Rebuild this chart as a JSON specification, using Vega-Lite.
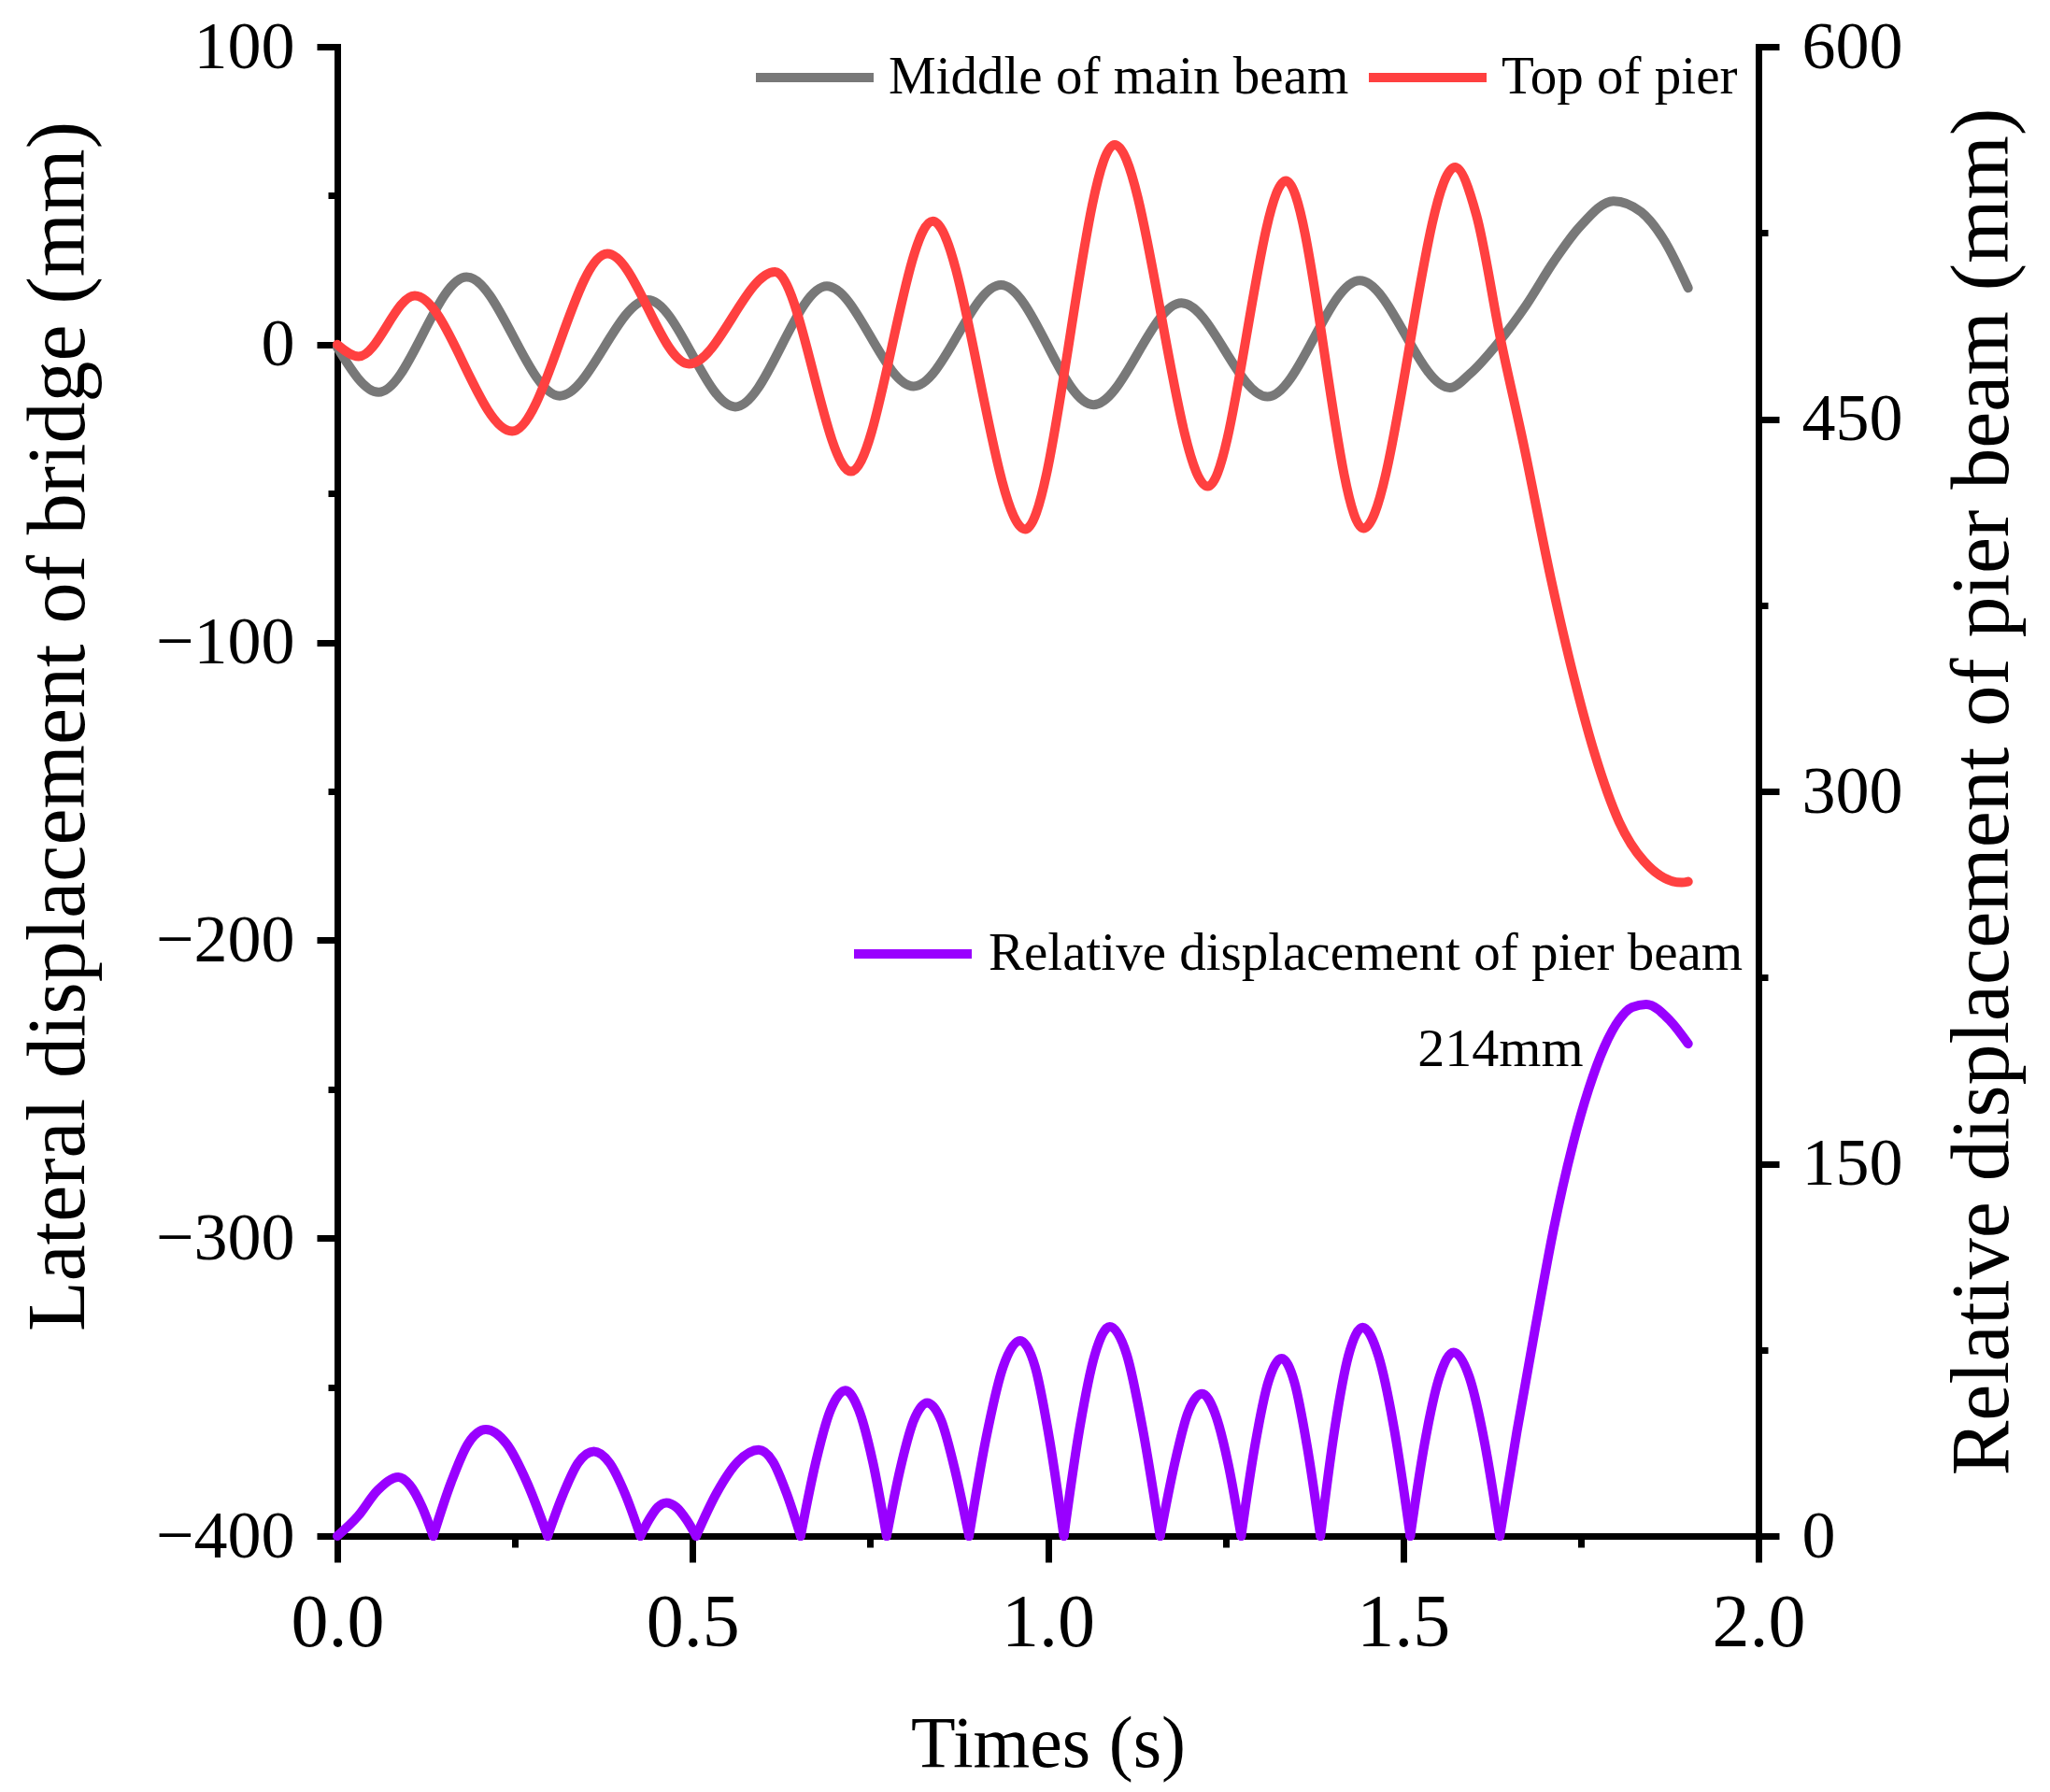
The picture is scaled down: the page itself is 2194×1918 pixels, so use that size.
{
  "$schema": "https://vega.github.io/schema/vega-lite/v6.json",
  "width": 1521,
  "height": 1594,
  "autosize": {"type": "none"},
  "padding": {"left": 361, "top": 50, "right": 312, "bottom": 274},
  "background": "white",
  "config": {
    "view": {"stroke": null},
    "font": "Liberation Serif",
    "axis": {
      "grid": false,
      "domainColor": "black",
      "tickColor": "black",
      "domainWidth": 7,
      "tickWidth": 7,
      "domainCap": "square",
      "labelColor": "black",
      "titleColor": "black",
      "labelFont": "Liberation Serif",
      "titleFont": "Liberation Serif",
      "titleFontWeight": "normal",
      "labelOverlap": false,
      "labelFlush": false
    }
  },
  "layer": [
    {
      "data": {
        "values": [
          {"t": 0, "v": -1, "series": "Middle of main beam"},
          {"t": 0.058, "v": -16, "series": "Middle of main beam"},
          {"t": 0.182, "v": 22.7, "series": "Middle of main beam"},
          {"t": 0.313, "v": -17.2, "series": "Middle of main beam"},
          {"t": 0.437, "v": 15, "series": "Middle of main beam"},
          {"t": 0.56, "v": -20.9, "series": "Middle of main beam"},
          {"t": 0.689, "v": 19.6, "series": "Middle of main beam"},
          {"t": 0.811, "v": -14, "series": "Middle of main beam"},
          {"t": 0.934, "v": 20, "series": "Middle of main beam"},
          {"t": 1.064, "v": -20.2, "series": "Middle of main beam"},
          {"t": 1.188, "v": 14, "series": "Middle of main beam"},
          {"t": 1.309, "v": -17.5, "series": "Middle of main beam"},
          {"t": 1.439, "v": 21.5, "series": "Middle of main beam"},
          {"t": 1.566, "v": -14.5, "series": "Middle of main beam"},
          {"t": 1.594, "v": -9.8, "series": "Middle of main beam"},
          {"t": 1.634, "v": 0.7, "series": "Middle of main beam"},
          {"t": 1.673, "v": 13.2, "series": "Middle of main beam"},
          {"t": 1.712, "v": 27.9, "series": "Middle of main beam"},
          {"t": 1.748, "v": 39.4, "series": "Middle of main beam"},
          {"t": 1.796, "v": 48.2, "series": "Middle of main beam"},
          {"t": 1.835, "v": 44.5, "series": "Middle of main beam"},
          {"t": 1.866, "v": 35.5, "series": "Middle of main beam"},
          {"t": 1.901, "v": 19, "series": "Middle of main beam"},
          {"t": 0, "v": 0, "series": "Top of pier"},
          {"t": 0.03, "v": -4, "series": "Top of pier"},
          {"t": 0.109, "v": 16.4, "series": "Top of pier"},
          {"t": 0.246, "v": -29.1, "series": "Top of pier"},
          {"t": 0.38, "v": 30.5, "series": "Top of pier"},
          {"t": 0.495, "v": -6.5, "series": "Top of pier"},
          {"t": 0.616, "v": 24.4, "series": "Top of pier"},
          {"t": 0.723, "v": -42.6, "series": "Top of pier"},
          {"t": 0.838, "v": 41.4, "series": "Top of pier"},
          {"t": 0.968, "v": -62, "series": "Top of pier"},
          {"t": 1.094, "v": 67.1, "series": "Top of pier"},
          {"t": 1.225, "v": -47.6, "series": "Top of pier"},
          {"t": 1.335, "v": 55, "series": "Top of pier"},
          {"t": 1.444, "v": -61.7, "series": "Top of pier"},
          {"t": 1.573, "v": 59.5, "series": "Top of pier"},
          {"t": 1.603, "v": 43.5, "series": "Top of pier"},
          {"t": 1.638, "v": 0.7, "series": "Top of pier"},
          {"t": 1.669, "v": -33, "series": "Top of pier"},
          {"t": 1.708, "v": -78.7, "series": "Top of pier"},
          {"t": 1.739, "v": -110.6, "series": "Top of pier"},
          {"t": 1.769, "v": -137, "series": "Top of pier"},
          {"t": 1.804, "v": -160.3, "series": "Top of pier"},
          {"t": 1.839, "v": -173.5, "series": "Top of pier"},
          {"t": 1.892, "v": -180.6, "series": "Top of pier"},
          {"t": 1.901, "v": -180.3, "series": "Top of pier"}
        ]
      },
      "mark": {"type": "line", "interpolate": "monotone", "strokeWidth": 10, "strokeCap": "round", "strokeJoin": "round"},
      "encoding": {
        "x": {
          "field": "t",
          "type": "quantitative",
          "scale": {"domain": [0, 2], "nice": false, "zero": false},
          "axis": {
            "values": [0, 0.25, 0.5, 0.75, 1, 1.25, 1.5, 1.75, 2],
            "labelExpr": "datum.value % 0.5 === 0 ? format(datum.value, '.1f') : ''",
            "labelFontSize": 80,
            "labelFont": "Liberation Serif",
            "labelPadding": 26,
            "tickSize": {"condition": {"test": "datum.value % 0.5 !== 0", "value": 12}, "value": 28},
            "title": "Times (s)",
            "titleFont": "Liberation Serif",
            "titleFontSize": 78,
            "titleY": 246,
            "titleBaseline": "alphabetic"
          }
        },
        "y": {
          "field": "v",
          "type": "quantitative",
          "scale": {"domain": [-400, 100], "nice": false, "zero": false},
          "axis": {
            "values": [-400, -350, -300, -250, -200, -150, -100, -50, 0, 50, 100],
            "labelExpr": "datum.value % 100 === 0 ? datum.label : ''",
            "labelFontSize": 72,
            "labelFont": "Liberation Serif",
            "labelPadding": 24,
            "tickSize": {"condition": {"test": "datum.value % 100 !== 0", "value": 10}, "value": 22},
            "title": "Lateral displacement of bridge (mm)",
            "titleFont": "Liberation Serif",
            "titleFontSize": 88,
            "titleAngle": 270,
            "titleX": -298,
            "titleY": 727,
            "titleBaseline": "middle"
          }
        },
        "color": {
          "field": "series",
          "type": "nominal",
          "scale": {"domain": ["Middle of main beam", "Top of pier"], "range": ["#787878", "#ff4040"]},
          "legend": {
            "orient": "none",
            "legendX": 443,
            "legendY": -35,
            "direction": "horizontal",
            "title": null,
            "symbolType": "stroke",
            "symbolSize": 15876,
            "symbolStrokeWidth": 10,
            "labelFontSize": 57,
            "labelFont": "Liberation Serif",
            "labelColor": "black",
            "labelOffset": 11,
            "columnPadding": 1,
            "labelLimit": 0,
            "padding": 0
          }
        }
      }
    },
    {
      "layer": [
        {
          "data": {
            "values": [
              {"t": 0, "v": 0, "lobe": 1, "series": "Relative displacement of pier beam"},
              {"t": 0.029, "v": 8, "lobe": 1, "series": "Relative displacement of pier beam"},
              {"t": 0.057, "v": 18.5, "lobe": 1, "series": "Relative displacement of pier beam"},
              {"t": 0.086, "v": 23.7, "lobe": 1, "series": "Relative displacement of pier beam"},
              {"t": 0.102, "v": 20.5, "lobe": 1, "series": "Relative displacement of pier beam"},
              {"t": 0.119, "v": 11.9, "lobe": 1, "series": "Relative displacement of pier beam"},
              {"t": 0.135, "v": 0, "lobe": 1, "series": "Relative displacement of pier beam"},
              {"t": 0.135, "v": 0, "lobe": 2, "series": "Relative displacement of pier beam"},
              {"t": 0.16, "v": 21.5, "lobe": 2, "series": "Relative displacement of pier beam"},
              {"t": 0.184, "v": 37.2, "lobe": 2, "series": "Relative displacement of pier beam"},
              {"t": 0.209, "v": 42.9, "lobe": 2, "series": "Relative displacement of pier beam"},
              {"t": 0.238, "v": 37.2, "lobe": 2, "series": "Relative displacement of pier beam"},
              {"t": 0.267, "v": 21.5, "lobe": 2, "series": "Relative displacement of pier beam"},
              {"t": 0.296, "v": 0, "lobe": 2, "series": "Relative displacement of pier beam"},
              {"t": 0.296, "v": 0, "lobe": 3, "series": "Relative displacement of pier beam"},
              {"t": 0.318, "v": 17, "lobe": 3, "series": "Relative displacement of pier beam"},
              {"t": 0.339, "v": 29.5, "lobe": 3, "series": "Relative displacement of pier beam"},
              {"t": 0.361, "v": 34.1, "lobe": 3, "series": "Relative displacement of pier beam"},
              {"t": 0.383, "v": 29.5, "lobe": 3, "series": "Relative displacement of pier beam"},
              {"t": 0.405, "v": 17, "lobe": 3, "series": "Relative displacement of pier beam"},
              {"t": 0.4266, "v": 0, "lobe": 3, "series": "Relative displacement of pier beam"},
              {"t": 0.4266, "v": 0, "lobe": 4, "series": "Relative displacement of pier beam"},
              {"t": 0.439, "v": 6.7, "lobe": 4, "series": "Relative displacement of pier beam"},
              {"t": 0.451, "v": 11.6, "lobe": 4, "series": "Relative displacement of pier beam"},
              {"t": 0.463, "v": 13.4, "lobe": 4, "series": "Relative displacement of pier beam"},
              {"t": 0.477, "v": 11.6, "lobe": 4, "series": "Relative displacement of pier beam"},
              {"t": 0.491, "v": 6.7, "lobe": 4, "series": "Relative displacement of pier beam"},
              {"t": 0.505, "v": 0, "lobe": 4, "series": "Relative displacement of pier beam"},
              {"t": 0.505, "v": 0, "lobe": 5, "series": "Relative displacement of pier beam"},
              {"t": 0.534, "v": 17.4, "lobe": 5, "series": "Relative displacement of pier beam"},
              {"t": 0.564, "v": 30, "lobe": 5, "series": "Relative displacement of pier beam"},
              {"t": 0.593, "v": 34.7, "lobe": 5, "series": "Relative displacement of pier beam"},
              {"t": 0.613, "v": 30, "lobe": 5, "series": "Relative displacement of pier beam"},
              {"t": 0.632, "v": 17.4, "lobe": 5, "series": "Relative displacement of pier beam"},
              {"t": 0.652, "v": 0, "lobe": 5, "series": "Relative displacement of pier beam"},
              {"t": 0.652, "v": 0, "lobe": 6, "series": "Relative displacement of pier beam"},
              {"t": 0.673, "v": 29.3, "lobe": 6, "series": "Relative displacement of pier beam"},
              {"t": 0.694, "v": 50.7, "lobe": 6, "series": "Relative displacement of pier beam"},
              {"t": 0.715, "v": 58.6, "lobe": 6, "series": "Relative displacement of pier beam"},
              {"t": 0.734, "v": 50.7, "lobe": 6, "series": "Relative displacement of pier beam"},
              {"t": 0.754, "v": 29.3, "lobe": 6, "series": "Relative displacement of pier beam"},
              {"t": 0.773, "v": 0, "lobe": 6, "series": "Relative displacement of pier beam"},
              {"t": 0.773, "v": 0, "lobe": 7, "series": "Relative displacement of pier beam"},
              {"t": 0.792, "v": 26.8, "lobe": 7, "series": "Relative displacement of pier beam"},
              {"t": 0.811, "v": 46.4, "lobe": 7, "series": "Relative displacement of pier beam"},
              {"t": 0.83, "v": 53.6, "lobe": 7, "series": "Relative displacement of pier beam"},
              {"t": 0.85, "v": 46.4, "lobe": 7, "series": "Relative displacement of pier beam"},
              {"t": 0.869, "v": 26.8, "lobe": 7, "series": "Relative displacement of pier beam"},
              {"t": 0.889, "v": 0, "lobe": 7, "series": "Relative displacement of pier beam"},
              {"t": 0.889, "v": 0, "lobe": 8, "series": "Relative displacement of pier beam"},
              {"t": 0.913, "v": 39.4, "lobe": 8, "series": "Relative displacement of pier beam"},
              {"t": 0.937, "v": 68.2, "lobe": 8, "series": "Relative displacement of pier beam"},
              {"t": 0.961, "v": 78.7, "lobe": 8, "series": "Relative displacement of pier beam"},
              {"t": 0.982, "v": 68.2, "lobe": 8, "series": "Relative displacement of pier beam"},
              {"t": 1.002, "v": 39.4, "lobe": 8, "series": "Relative displacement of pier beam"},
              {"t": 1.0225, "v": 0, "lobe": 8, "series": "Relative displacement of pier beam"},
              {"t": 1.0225, "v": 0, "lobe": 9, "series": "Relative displacement of pier beam"},
              {"t": 1.044, "v": 42.2, "lobe": 9, "series": "Relative displacement of pier beam"},
              {"t": 1.066, "v": 73, "lobe": 9, "series": "Relative displacement of pier beam"},
              {"t": 1.087, "v": 84.3, "lobe": 9, "series": "Relative displacement of pier beam"},
              {"t": 1.111, "v": 73, "lobe": 9, "series": "Relative displacement of pier beam"},
              {"t": 1.134, "v": 42.2, "lobe": 9, "series": "Relative displacement of pier beam"},
              {"t": 1.158, "v": 0, "lobe": 9, "series": "Relative displacement of pier beam"},
              {"t": 1.158, "v": 0, "lobe": 10, "series": "Relative displacement of pier beam"},
              {"t": 1.178, "v": 28.7, "lobe": 10, "series": "Relative displacement of pier beam"},
              {"t": 1.197, "v": 49.6, "lobe": 10, "series": "Relative displacement of pier beam"},
              {"t": 1.217, "v": 57.3, "lobe": 10, "series": "Relative displacement of pier beam"},
              {"t": 1.235, "v": 49.6, "lobe": 10, "series": "Relative displacement of pier beam"},
              {"t": 1.254, "v": 28.7, "lobe": 10, "series": "Relative displacement of pier beam"},
              {"t": 1.272, "v": 0, "lobe": 10, "series": "Relative displacement of pier beam"},
              {"t": 1.272, "v": 0, "lobe": 11, "series": "Relative displacement of pier beam"},
              {"t": 1.291, "v": 35.8, "lobe": 11, "series": "Relative displacement of pier beam"},
              {"t": 1.31, "v": 61.9, "lobe": 11, "series": "Relative displacement of pier beam"},
              {"t": 1.329, "v": 71.5, "lobe": 11, "series": "Relative displacement of pier beam"},
              {"t": 1.347, "v": 61.9, "lobe": 11, "series": "Relative displacement of pier beam"},
              {"t": 1.365, "v": 35.8, "lobe": 11, "series": "Relative displacement of pier beam"},
              {"t": 1.3836, "v": 0, "lobe": 11, "series": "Relative displacement of pier beam"},
              {"t": 1.3836, "v": 0, "lobe": 12, "series": "Relative displacement of pier beam"},
              {"t": 1.403, "v": 42, "lobe": 12, "series": "Relative displacement of pier beam"},
              {"t": 1.423, "v": 72.7, "lobe": 12, "series": "Relative displacement of pier beam"},
              {"t": 1.443, "v": 84, "lobe": 12, "series": "Relative displacement of pier beam"},
              {"t": 1.465, "v": 72.7, "lobe": 12, "series": "Relative displacement of pier beam"},
              {"t": 1.488, "v": 42, "lobe": 12, "series": "Relative displacement of pier beam"},
              {"t": 1.51, "v": 0, "lobe": 12, "series": "Relative displacement of pier beam"},
              {"t": 1.51, "v": 0, "lobe": 13, "series": "Relative displacement of pier beam"},
              {"t": 1.53, "v": 37, "lobe": 13, "series": "Relative displacement of pier beam"},
              {"t": 1.551, "v": 64.1, "lobe": 13, "series": "Relative displacement of pier beam"},
              {"t": 1.571, "v": 74, "lobe": 13, "series": "Relative displacement of pier beam"},
              {"t": 1.593, "v": 64.1, "lobe": 13, "series": "Relative displacement of pier beam"},
              {"t": 1.615, "v": 37, "lobe": 13, "series": "Relative displacement of pier beam"},
              {"t": 1.636, "v": 0, "lobe": 13, "series": "Relative displacement of pier beam"},
              {"t": 1.636, "v": 0, "lobe": 14, "series": "Relative displacement of pier beam"},
              {"t": 1.66, "v": 42, "lobe": 14, "series": "Relative displacement of pier beam"},
              {"t": 1.686, "v": 84, "lobe": 14, "series": "Relative displacement of pier beam"},
              {"t": 1.712, "v": 124, "lobe": 14, "series": "Relative displacement of pier beam"},
              {"t": 1.739, "v": 158, "lobe": 14, "series": "Relative displacement of pier beam"},
              {"t": 1.761, "v": 180, "lobe": 14, "series": "Relative displacement of pier beam"},
              {"t": 1.783, "v": 197, "lobe": 14, "series": "Relative displacement of pier beam"},
              {"t": 1.804, "v": 208, "lobe": 14, "series": "Relative displacement of pier beam"},
              {"t": 1.822, "v": 213, "lobe": 14, "series": "Relative displacement of pier beam"},
              {"t": 1.842, "v": 214.2, "lobe": 14, "series": "Relative displacement of pier beam"},
              {"t": 1.875, "v": 207.8, "lobe": 14, "series": "Relative displacement of pier beam"},
              {"t": 1.901, "v": 198.3, "lobe": 14, "series": "Relative displacement of pier beam"}
            ]
          },
          "mark": {"type": "line", "interpolate": "monotone", "strokeWidth": 10, "strokeCap": "round", "strokeJoin": "round"},
          "encoding": {
            "x": {"field": "t", "type": "quantitative"},
            "y": {
              "field": "v",
              "type": "quantitative",
              "scale": {"domain": [0, 600], "nice": false, "zero": false},
              "axis": {
                "orient": "right",
                "values": [0, 75, 150, 225, 300, 375, 450, 525, 600],
                "labelExpr": "datum.value % 150 === 0 ? datum.label : ''",
                "labelFontSize": 72,
                "labelFont": "Liberation Serif",
                "labelPadding": 24,
                "tickSize": {"condition": {"test": "datum.value % 150 !== 0", "value": 10}, "value": 22},
                "title": "Relative displacement of pier beam (mm)",
                "titleFont": "Liberation Serif",
                "titleFontSize": 88,
                "titleAngle": 270,
                "titleX": 240,
                "titleBaseline": "middle"
              }
            },
            "color": {
              "field": "series",
              "type": "nominal",
              "scale": {"domain": ["Relative displacement of pier beam"], "range": ["#9900ff"]},
              "legend": {
                "orient": "none",
                "legendX": 548,
                "legendY": 903,
                "direction": "horizontal",
                "title": null,
                "symbolType": "stroke",
                "symbolSize": 15876,
                "symbolStrokeWidth": 10,
                "labelFontSize": 57,
                "labelFont": "Liberation Serif",
                "labelColor": "black",
                "labelOffset": 13,
                "labelLimit": 0,
                "padding": 0
              }
            },
            "detail": {"field": "lobe", "type": "nominal"}
          }
        },
        {
          "data": {"values": [{"t": 1.637, "v": 189.4, "label": "214mm"}]},
          "mark": {"type": "text", "fontSize": 58, "font": "Liberation Serif", "baseline": "alphabetic", "align": "center", "color": "black"},
          "encoding": {
            "x": {"field": "t", "type": "quantitative"},
            "y": {"field": "v", "type": "quantitative"},
            "text": {"field": "label"}
          }
        }
      ]
    }
  ],
  "resolve": {"scale": {"y": "independent", "color": "independent"}}
}
